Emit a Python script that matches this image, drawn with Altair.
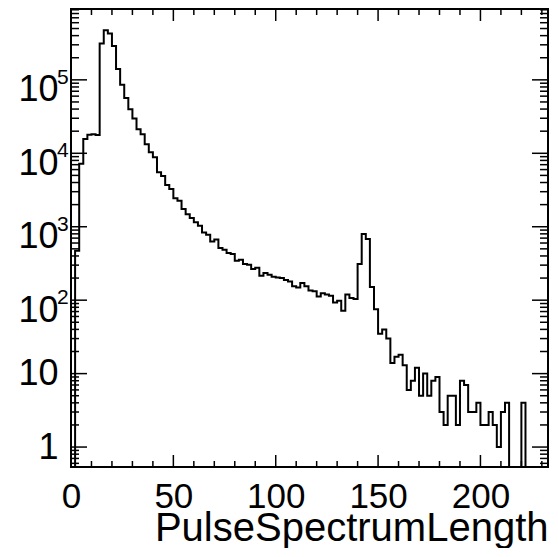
import altair as alt
import pandas as pd

# ---- data (bin width 2, bins start at 0) ----
bin_width = 2
counts = [
    0, 470, 7200, 15600, 17900, 18200, 17700, 312000, 474000, 427000,
    290000, 140000, 85500, 56400, 39900, 29700, 21300, 18200, 13300, 10300,
    8800, 5500, 4900, 3700, 3260, 2450, 2260, 1740, 1480, 1310,
    1150, 1030, 836, 778, 631, 672, 513, 487, 438, 425,
    345, 355, 311, 304, 265, 276, 215, 234, 222, 209,
    204, 200, 188, 179, 155, 149, 171, 155, 135, 132,
    112, 124, 119, 115, 93, 98, 72, 119, 107, 104,
    311, 795, 680, 151, 75, 35, 40, 30, 14, 17,
    18, 13, 6, 8, 12, 5, 10, 5, 8, 9,
    3, 2, 5, 5, 2, 8, 7, 3, 3, 4,
    2, 2, 3, 2, 1, 3, 4, 0, 0, 0,
    4, 0, 0, 0, 0, 0,
]

x_domain = [0, 233]
y_domain = [0.535, 9.22e5]

x_major = [0, 50, 100, 150, 200]
x_minor = [10, 20, 30, 40, 60, 70, 80, 90, 110, 120, 130, 140,
           160, 170, 180, 190, 210, 220, 230]
y_major = [1, 10, 100, 1000, 10000, 100000]
y_minor = [0.6, 0.7, 0.8, 0.9] + [m * 10 ** k for k in range(0, 5) for m in range(2, 10)] \
          + [200000, 300000, 400000, 500000, 600000, 700000, 800000, 900000]
exp_values = [100, 1000, 10000, 100000]
exp_labels = ["2", "3", "4", "5"]

x_title = "PulseSpectrumLength"

# ---- tables ----
edges = [i * bin_width for i in range(len(counts) + 1)]
hist_df = pd.DataFrame({"x": edges, "count": counts + [counts[-1]]})
xmaj_df = pd.DataFrame({"v": x_major})
xmin_df = pd.DataFrame({"v": x_minor})
ymaj_df = pd.DataFrame({"v": y_major})
ymin_df = pd.DataFrame({"v": y_minor})
exp_df = pd.DataFrame({"v": exp_values, "t": exp_labels})

W, H = 477, 458
FONT = "Liberation Sans"

xs = alt.Scale(domain=x_domain, nice=False, zero=False)
ys = alt.Scale(type="log", domain=y_domain, nice=False, clamp=True)

x_axis = alt.Axis(values=x_major, ticks=False, domain=False, grid=False,
                  labelFontSize=35, labelFont=FONT, labelColor="black",
                  labelPadding=12, labelFlush=False, labelOverlap=False,
                  format="d", title=x_title, titleFont=FONT, titleFontSize=40,
                  titleFontWeight="normal", titleColor="black",
                  titleAnchor="end", titlePadding=-6)
y_axis = alt.Axis(values=y_major, ticks=False, domain=False, grid=False,
                  labelFontSize=36, labelFont=FONT, labelColor="black",
                  labelPadding=13, labelOverlap=False, labelFlush=False,
                  labelExpr="datum.value < 5 ? '1' : '10'",
                  labelOffset=alt.condition("datum.value >= 100", alt.value(10), alt.value(0)),
                  title="")

hist = alt.Chart(hist_df).mark_line(
    interpolate="step-after", color="black", strokeWidth=2
).transform_calculate(
    yv="max(datum.count, 0.01)"
).encode(
    x=alt.X("x:Q", scale=xs, axis=x_axis),
    y=alt.Y("yv:Q", scale=ys, axis=y_axis),
)

def xticks(df, y0, y1):
    return alt.Chart(df).mark_rule(color="black", strokeWidth=1.5).encode(
        x=alt.X("v:Q", scale=xs, axis=x_axis),
        y=alt.value(y0), y2=alt.value(y1))

def yticks(df, x0, x1):
    return alt.Chart(df).mark_rule(color="black", strokeWidth=1.5).encode(
        y=alt.Y("v:Q", scale=ys, axis=y_axis),
        x=alt.value(x0), x2=alt.value(x1))

exps = alt.Chart(exp_df).mark_text(
    align="left", baseline="middle", fontSize=21, font=FONT, color="black", dy=-2
).encode(
    y=alt.Y("v:Q", scale=ys, axis=y_axis),
    x=alt.value(-14),
    text="t:N",
)

chart = alt.layer(
    hist,
    xticks(xmaj_df, H, H - 12), xticks(xmin_df, H, H - 6),
    xticks(xmaj_df, 0, 12), xticks(xmin_df, 0, 6),
    yticks(ymaj_df, 0, 16), yticks(ymin_df, 0, 8),
    yticks(ymaj_df, W, W - 16), yticks(ymin_df, W, W - 8),
    exps,
).properties(
    width=W, height=H,
    autosize="none",
    padding={"left": 63, "top": 1, "right": 2, "bottom": 81},
    background="white",
).configure_view(
    stroke="black", strokeWidth=2
)

chart.save("out.html", embed_options={"renderer": "svg", "actions": False})
